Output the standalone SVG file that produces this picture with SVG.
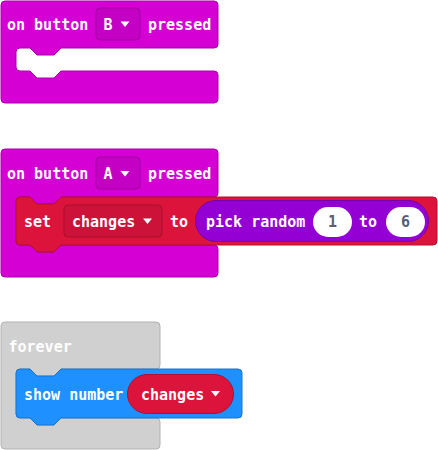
<svg xmlns="http://www.w3.org/2000/svg" width="438" height="450" viewBox="0 0 438 450">
<style>
.t{font-family:"DejaVu Sans Mono","Liberation Mono",monospace;font-weight:bold;font-size:15px;fill:#ffffff}
.n{font-family:"DejaVu Sans Mono","Liberation Mono",monospace;font-weight:bold;font-size:15px;fill:#575E75;text-anchor:middle}
.ev{fill:#D400D4;stroke:#AA00AA;stroke-width:1}
.evd{fill:#C400C4;stroke:#A000A0;stroke-width:1}
.var{fill:#DC143C;stroke:#B0102F;stroke-width:1}
.vard{fill:#CC1238;stroke:#A80F2D;stroke-width:1}
.math{fill:#9400D3;stroke:#7600A9;stroke-width:1}
.basic{fill:#1E90FF;stroke:#1873CC;stroke-width:1}
.loop{fill:#D0D0D0;stroke:#B2B2B2;stroke-width:1}
.num{fill:#ffffff}
.arr{fill:#ffffff}
</style>
<rect width="438" height="450" fill="#ffffff"/>
<g id="connectors"></g>
<g id="on-button-b">
<path class="ev" d="M 5,1 H 214 A 4 4 0 0 1 218,5 V 44 A 4 4 0 0 1 214,48 H 61 L 54,55 H 37 L 30,48 H 20 A 4 4 0 0 0 16,52 V 67 A 4 4 0 0 0 20,71 H 30 L 37,78 H 54 L 61,71 H 214 A 4 4 0 0 1 218,75 V 99 A 4 4 0 0 1 214,103 H 5 A 4 4 0 0 1 1,99 V 5 A 4 4 0 0 1 5,1 Z"/>
<text class="t" x="7" y="29.5">on button</text>
<rect class="evd" x="96" y="8" width="44" height="32" rx="4"/>
<text class="t" x="103.5" y="29.5">B</text>
<polygon class="arr" points="120.5,21.5 129.5,21.5 125,27"/>
<text class="t" x="148" y="29.5">pressed</text>
</g>
<g id="on-button-a">
<path class="ev" d="M 5,149 H 214 A 4 4 0 0 1 218,153 V 193 A 4 4 0 0 1 214,197 H 61 L 54,204 H 37 L 30,197 H 20 A 4 4 0 0 0 16,201 V 241 A 4 4 0 0 0 20,245 H 30 L 37,252 H 54 L 61,245 H 214 A 4 4 0 0 1 218,249 V 273 A 4 4 0 0 1 214,277 H 5 A 4 4 0 0 1 1,273 V 153 A 4 4 0 0 1 5,149 Z"/>
<text class="t" x="7" y="178.5">on button</text>
<rect class="evd" x="96" y="157" width="44" height="32" rx="4"/>
<text class="t" x="103.5" y="178.5">A</text>
<polygon class="arr" points="120.5,171 129.5,171 125,176.5"/>
<text class="t" x="148" y="178.5">pressed</text>
</g>
<g id="set-changes">
<path class="var" d="M 20,197 H 30 L 37,204 H 54 L 61,197 H 433 A 4 4 0 0 1 437,201 V 241 A 4 4 0 0 1 433,245 H 61 L 54,252 H 37 L 30,245 H 20 A 4 4 0 0 1 16,241 V 201 A 4 4 0 0 1 20,197 Z"/>
<text class="t" x="24" y="226.5">set</text>
<rect class="vard" x="64" y="205" width="98" height="32" rx="4"/>
<text class="t" x="72" y="226.5">changes</text>
<polygon class="arr" points="143,218.5 152,218.5 147.5,224"/>
<text class="t" x="170" y="226.5">to</text>
</g>
<g id="pick-random">
<rect class="math" x="195.5" y="200.5" width="233" height="41" rx="20.5"/>
<text class="t" x="206" y="226.5">pick random</text>
<rect class="num" x="313" y="207" width="39" height="30" rx="15"/>
<text class="n" x="332.5" y="226.5">1</text>
<text class="t" x="359" y="226.5">to</text>
<rect class="num" x="386" y="207" width="39" height="30" rx="15"/>
<text class="n" x="405.5" y="226.5">6</text>
</g>
<g id="forever">
<path class="loop" d="M 5,322 H 156 A 4 4 0 0 1 160,326 V 365 A 4 4 0 0 1 156,369 H 61 L 54,376 H 37 L 30,369 H 20 A 4 4 0 0 0 16,373 V 414 A 4 4 0 0 0 20,418 H 30 L 37,425 H 54 L 61,418 H 156 A 4 4 0 0 1 160,422 V 445 A 4 4 0 0 1 156,449 H 5 A 4 4 0 0 1 1,445 V 326 A 4 4 0 0 1 5,322 Z"/>
<text class="t" x="8.5" y="351.5">forever</text>
</g>
<g id="show-number">
<path class="basic" d="M 20,369 H 30 L 37,376 H 54 L 61,369 H 238 A 4 4 0 0 1 242,373 V 414 A 4 4 0 0 1 238,418 H 61 L 54,425 H 37 L 30,418 H 20 A 4 4 0 0 1 16,414 V 373 A 4 4 0 0 1 20,369 Z"/>
<text class="t" x="24" y="399.5">show number</text>
</g>
<g id="changes-var">
<rect class="var" x="127.5" y="374.5" width="106" height="39" rx="19.5"/>
<text class="t" x="141" y="399.5">changes</text>
<polygon class="arr" points="211,391 220,391 215.5,396.5"/>
</g>
</svg>
